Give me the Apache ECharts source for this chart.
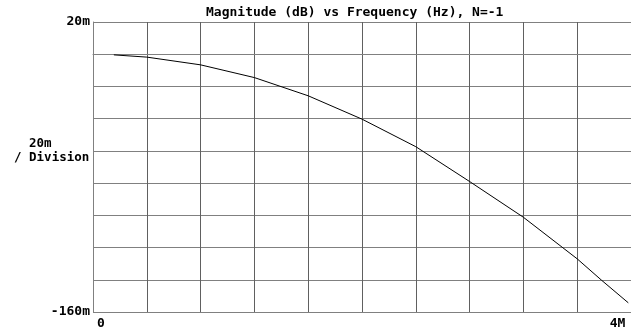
<!DOCTYPE html>
<html>
<head>
<meta charset="utf-8">
<script src="https://cdn.jsdelivr.net/npm/echarts@6/dist/echarts.min.js"></script>
<style>
html,body{margin:0;padding:0;background:#fff;}
#chart{width:631px;height:335px;}
</style>
</head>
<body>
<div id="chart"></div>
<script>
// Frequency in MHz, magnitude in milli-dB
var freqMHz = [0.155, 0.4, 0.8, 1.2, 1.6, 2.0, 2.4, 2.8, 3.2, 3.6, 3.78, 3.98];
var magMilliDb = [-0.4, -1.8, -6.6, -14.5, -25.8, -40.3, -57.4, -79.0, -101.2, -127.0, -140.2, -154.3];
var xTickLabels = {0: '0', 4: '4M'};
var yTickLabels = {20: '20m', '-160': '-160m'};
var titleText = 'Magnitude (dB) vs Frequency (Hz), N=-1';
var yDivisionText = ['  20m', '/ Division'];

var FONT = '"DejaVu Sans Mono", "Liberation Mono", monospace';
var points = freqMHz.map(function (f, i) { return [f, magMilliDb[i]]; });

var chart = echarts.init(document.getElementById('chart'), null, {renderer: 'canvas'});
chart.setOption({
  animation: false,
  backgroundColor: '#ffffff',
  title: {
    text: titleText,
    left: 201,
    top: 1,
    textStyle: {fontFamily: FONT, fontSize: 13, fontWeight: 'bold', color: '#000'}
  },
  graphic: [
    {type: 'text', left: 14, top: 137, style: {text: yDivisionText.join('\n'), font: 'bold 12.5px ' + FONT, fill: '#000', lineHeight: 14}}
  ],
  grid: {left: 93, top: 22, right: -2, bottom: 23, containLabel: false},
  xAxis: {
    type: 'value', min: 0, max: 4, interval: 0.4,
    axisLine: {show: true, lineStyle: {color: '#808080', width: 1}},
    axisTick: {show: false},
    splitLine: {show: true, lineStyle: {color: '#606060', width: 1}},
    axisLabel: {
      margin: 5,
      fontFamily: FONT, fontSize: 13, fontWeight: 'bold', color: '#000',
      formatter: function (v) {
        var k = Math.round(v * 10) / 10;
        if (k === 0) return '{a|' + xTickLabels[0] + '}';
        if (k === 4) return '{b|' + xTickLabels[4] + '}';
        return '';
      },
      rich: {
        a: {fontFamily: FONT, fontSize: 13, fontWeight: 'bold', color: '#000', padding: [0, 0, 0, 16]},
        b: {fontFamily: FONT, fontSize: 13, fontWeight: 'bold', color: '#000', padding: [0, 27, 0, 0]}
      }
    }
  },
  yAxis: {
    type: 'value', min: -160, max: 20, interval: 20,
    axisLine: {show: true, lineStyle: {color: '#808080', width: 1}},
    axisTick: {show: false},
    splitLine: {show: true, lineStyle: {color: '#808080', width: 1}},
    axisLabel: {
      margin: 3,
      fontFamily: FONT, fontSize: 13, fontWeight: 'bold', color: '#000',
      formatter: function (v) { return yTickLabels[String(v)] || ''; }
    }
  },
  series: [{
    type: 'line',
    data: points,
    smooth: false,
    showSymbol: false,
    lineStyle: {color: '#000', width: 1}
  }]
});
</script>
</body>
</html>
